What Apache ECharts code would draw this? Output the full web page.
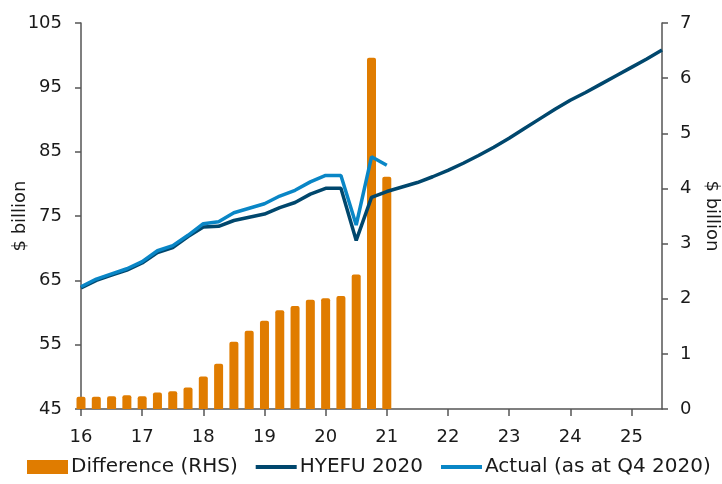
<!DOCTYPE html>
<html>
<head>
<meta charset="utf-8">
<script src="https://cdn.jsdelivr.net/npm/echarts@6/dist/echarts.min.js"></script>
<style>
html,body{margin:0;padding:0;background:#fff;}
#chart{width:722px;height:484px;}
</style>
</head>
<body>
<div id="chart"></div>
<script>
// Quarterly positions (year fraction, 2-digit years)
var quarters = [16.0,16.25,16.5,16.75,17.0,17.25,17.5,17.75,18.0,18.25,18.5,18.75,
  19.0,19.25,19.5,19.75,20.0,20.25,20.5,20.75,21.0,21.25,21.5,21.75,22.0,22.25,22.5,22.75,
  23.0,23.25,23.5,23.75,24.0,24.25,24.5,24.75,25.0,25.25,25.5];

// Difference (RHS), $ billion, 16.0 .. 21.0
var difference = [0.22,0.22,0.23,0.25,0.23,0.30,0.32,0.39,0.59,0.82,1.22,1.42,
  1.60,1.79,1.87,1.98,2.01,2.05,2.44,6.37,4.21];

// HYEFU 2020, $ billion, 16.0 .. 25.5
var hyefu2020 = [63.8,65.0,65.8,66.6,67.7,69.3,70.1,71.8,73.3,73.4,74.3,74.8,
  75.3,76.3,77.1,78.4,79.3,79.3,71.2,77.9,78.8,
  79.5,80.2,81.1,82.1,83.2,84.4,85.7,87.1,88.6,90.1,91.6,93.0,94.2,95.5,96.8,98.1,99.4,100.8];

// Actual (as at Q4 2020), $ billion, 16.0 .. 21.0
var actual = [64.0,65.2,66.0,66.8,67.9,69.6,70.4,72.0,73.8,74.1,75.5,76.2,
  76.9,78.1,79.0,80.3,81.3,81.3,73.6,84.2,82.9];

var xTickLabels = ['16','17','18','19','20','21','22','23','24','25'];
var leftTicks = [45,55,65,75,85,95,105];
var rightTicks = [0,1,2,3,4,5,6,7];

function pairs(xs, ys){ return ys.map(function(v,i){ return [xs[i], v]; }); }

var FONT = 'DejaVu Sans';
var axisColor = '#555555';
var txt = '#1a1a1a';

var chart = echarts.init(document.getElementById('chart'), null, {renderer:'canvas'});
chart.setOption({
  animation: false,
  backgroundColor: '#ffffff',
  textStyle: {fontFamily: FONT, color: txt},
  grid: {left: 81, right: 60, top: 23, bottom: 75, containLabel: false, outerBoundsMode: 'none'},
  legend: {
    bottom: 2, left: 22,
    itemWidth: 41, itemHeight: 14, itemGap: 16,
    textStyle: {fontFamily: FONT, fontSize: 20, color: txt, padding: [0,0,0,-2]},
    data: [
      {name: 'Difference (RHS)', icon: 'rect'},
      {name: 'HYEFU 2020', itemStyle: {opacity: 0}, lineStyle: {width: 4}},
      {name: 'Actual (as at Q4 2020)', itemStyle: {opacity: 0}, lineStyle: {width: 4}}
    ]
  },
  xAxis: {
    type: 'value', min: 16, max: 25.5, interval: 1,
    axisLine: {show: true, lineStyle: {color: axisColor, width: 1.5}},
    axisTick: {show: true, length: 7, lineStyle: {color: axisColor, width: 1.5}},
    splitLine: {show: false},
    axisLabel: {
      showMaxLabel: false, margin: 19, fontSize: 18, fontFamily: FONT, color: txt,
      formatter: function(v){ var s = String(Math.round(v)); return (Math.abs(v-Math.round(v))<1e-6 && xTickLabels.indexOf(s)>=0) ? s : ''; }
    }
  },
  yAxis: [
    {
      type: 'value', min: leftTicks[0], max: leftTicks[leftTicks.length-1], interval: 10,
      position: 'left',
      name: '$ billion', nameLocation: 'middle', nameGap: 52, nameRotate: 90, nameMoveOverlap: false,
      nameTextStyle: {fontSize: 18, fontFamily: FONT, color: txt},
      axisLine: {show: true, lineStyle: {color: axisColor, width: 1.5}},
      axisTick: {show: true, length: 6, lineStyle: {color: axisColor, width: 1.5}},
      splitLine: {show: false},
      axisLabel: {margin: 19, fontSize: 18, fontFamily: FONT, color: txt}
    },
    {
      type: 'value', min: rightTicks[0], max: rightTicks[rightTicks.length-1], interval: 1,
      position: 'right',
      name: '$ billion', nameLocation: 'middle', nameGap: 40, nameRotate: -90,
      nameTextStyle: {fontSize: 18, fontFamily: FONT, color: txt},
      axisLine: {show: true, lineStyle: {color: axisColor, width: 1.5}},
      axisTick: {show: true, length: 6, lineStyle: {color: axisColor, width: 1.5}},
      splitLine: {show: false},
      axisLabel: {margin: 18, fontSize: 18, fontFamily: FONT, color: txt}
    }
  ],
  series: [
    {
      name: 'Difference (RHS)', type: 'bar', yAxisIndex: 1,
      data: pairs(quarters, difference),
      barWidth: 9, clip: true,
      itemStyle: {color: '#E07C00', borderRadius: [2,2,0,0]}
    },
    {
      name: 'HYEFU 2020', type: 'line', yAxisIndex: 0,
      data: pairs(quarters, hyefu2020),
      symbol: 'none', showSymbol: false,
      lineStyle: {color: '#00476D', width: 3.5},
      itemStyle: {color: '#00476D'}
    },
    {
      name: 'Actual (as at Q4 2020)', type: 'line', yAxisIndex: 0,
      data: pairs(quarters, actual),
      symbol: 'none', showSymbol: false,
      lineStyle: {color: '#0986C6', width: 3.5},
      itemStyle: {color: '#0986C6'}
    }
  ]
});
</script>
</body>
</html>
